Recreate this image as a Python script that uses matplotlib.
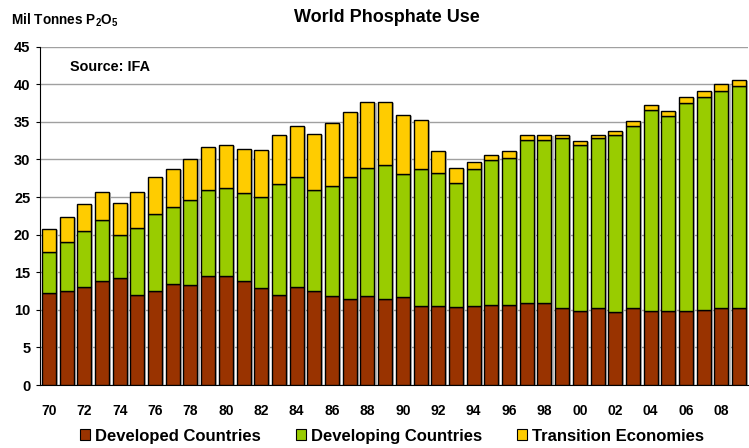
import matplotlib
matplotlib.use("Agg")
import matplotlib.pyplot as plt
import numpy as np
from matplotlib.patches import Patch

years = list(range(1970, 2010))
developed = [12.2, 12.5, 13.0, 13.8, 14.2, 12.0, 12.5, 13.5, 13.3, 14.5,
             14.5, 13.8, 12.9, 12.0, 13.0, 12.5, 11.8, 11.5, 11.8, 11.5,
             11.7, 10.5, 10.5, 10.4, 10.5, 10.6, 10.6, 10.9, 10.9, 10.3,
             9.9, 10.2, 9.7, 10.2, 9.9, 9.9, 9.9, 10.0, 10.2, 10.2]
dev_plus_developing = [17.7, 19.0, 20.5, 22.0, 20.0, 20.9, 22.7, 23.7, 24.6, 26.0,
                       26.2, 25.6, 25.0, 26.7, 27.7, 25.9, 26.5, 27.7, 28.9, 29.3,
                       28.1, 28.7, 28.2, 26.9, 28.7, 29.9, 30.2, 32.6, 32.6, 32.8,
                       31.9, 32.8, 33.2, 34.4, 36.6, 35.8, 37.5, 38.3, 39.1, 39.8]
totals = [20.8, 22.4, 24.1, 25.7, 24.2, 25.7, 27.7, 28.7, 30.1, 31.6,
          31.9, 31.4, 31.2, 33.2, 34.4, 33.4, 34.9, 36.3, 37.6, 37.6,
          35.9, 35.2, 31.1, 28.9, 29.6, 30.6, 31.1, 33.2, 33.2, 33.2,
          32.4, 33.2, 33.8, 35.1, 37.3, 36.4, 38.3, 39.1, 40.0, 40.6]
developing = [b - a for a, b in zip(developed, dev_plus_developing)]
transition = [c - b for b, c in zip(dev_plus_developing, totals)]

series_names = ["Developed Countries", "Developing Countries", "Transition Economies"]
colors = ["#993300", "#99CC00", "#FFCC00"]
tick_years = years[::2]
tick_labels = [f"{y % 100:02d}" for y in tick_years]

plt.rcParams['font.family'] = ['Liberation Sans', 'DejaVu Sans']
plt.rcParams['font.weight'] = 'bold'
plt.rcParams['mathtext.fontset'] = 'custom'
plt.rcParams['mathtext.rm'] = 'Liberation Sans:bold'
plt.rcParams['mathtext.bf'] = 'Liberation Sans:bold'

fig = plt.figure(figsize=(7.49, 4.48), dpi=100)
ax = fig.add_axes([40/749, 63/448, 708/749, 338.3/448])

x = np.arange(len(years))
w = 0.79
bottom = np.zeros(len(years))
for vals in [developed, developing, transition]:
    v = np.array(vals)
    ax.bar(x + 0.12, v, w, bottom=bottom - 0.12, color="#bbbbbb", edgecolor="none", zorder=2)
    bottom += v
bottom = np.zeros(len(years))
for vals, col in zip([developed, developing, transition], colors):
    v = np.array(vals)
    ax.bar(x, v, w, bottom=bottom, color=col, edgecolor="black", linewidth=1.0, zorder=3)
    bottom += v

ax.set_xlim(-0.5, len(years) - 0.5)
ax.set_ylim(0, 45)
ax.set_yticks(range(0, 46, 5))
ax.yaxis.grid(True, color="#a0a0a0", linewidth=1.0, zorder=0)
ax.set_axisbelow(True)
ax.set_xticks([years.index(y) for y in tick_years])
ax.set_xticklabels(tick_labels, fontsize=10, fontweight='bold')
ax.tick_params(axis='x', length=0, pad=14)
ax.tick_params(axis='y', length=3, labelsize=10.5, pad=4)
for lab in ax.get_yticklabels():
    lab.set_fontweight('bold')
for s in ['top', 'right']:
    ax.spines[s].set_visible(False)
ax.spines['left'].set_color('black')
ax.spines['bottom'].set_color('black')

fig.text(387/749, 1 - 17/448, "World Phosphate Use", ha='center', va='center',
         fontsize=13, fontweight='bold')
fig.text(11/749, 1 - 20/448, r"Mil Tonnes P$_\mathbf{2}$O$_\mathbf{5}$", ha='left', va='center',
         fontsize=9.8, fontweight='bold')
fig.text(70/749, 1 - 67/448, "Source: IFA", ha='left', va='center',
         fontsize=10.4, fontweight='bold')

handles = [Patch(facecolor=c, edgecolor='black', linewidth=0.8) for c in colors]
fig.legend(handles, series_names, loc='center', bbox_to_anchor=(392/749, 1 - 436/448), ncol=3,
           frameon=False, handlelength=0.6, handleheight=0.6,
           handletextpad=0.3, columnspacing=2.1, prop={'weight': 'bold', 'size': 12})

fig.savefig("out.png", dpi=100)
